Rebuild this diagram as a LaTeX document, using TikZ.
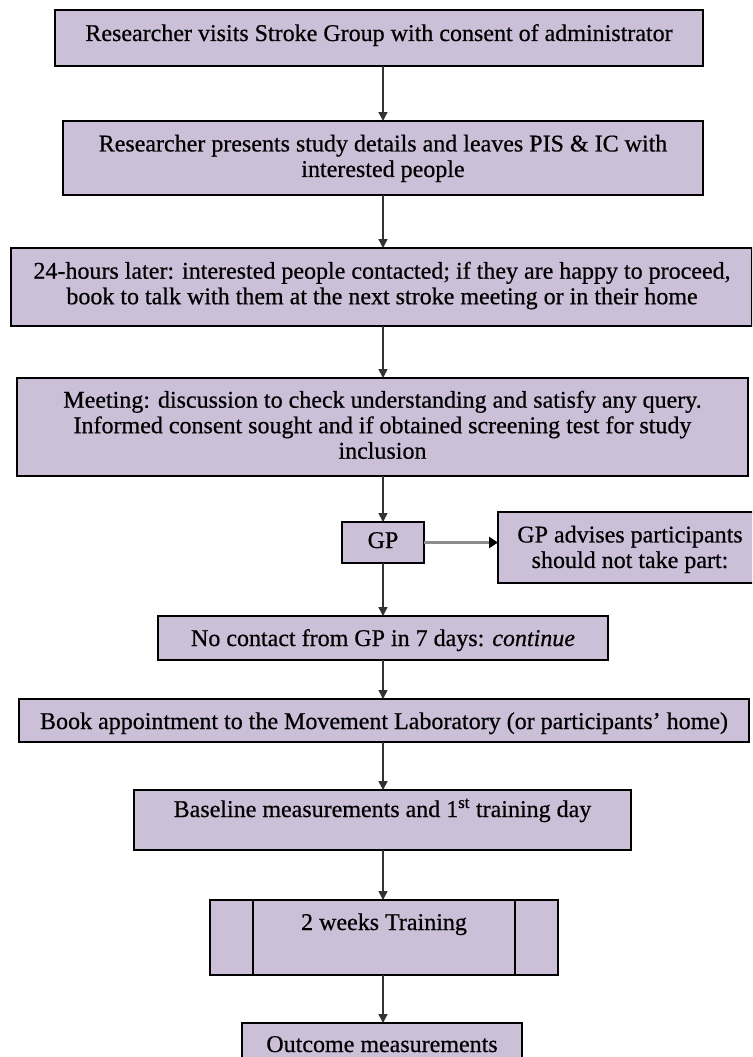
\documentclass[tikz,border=0pt]{standalone}
\usepackage{fontspec}
\setmainfont{Liberation Serif}[RawFeature={embolden=0.6}]
\usetikzlibrary{arrows.meta}
\definecolor{boxfill}{RGB}{204,192,217}
\begin{document}
\begin{tikzpicture}[x=1pt,y=-1pt,
  box/.style={draw=black, line width=2pt, fill=boxfill, inner sep=0pt, outer sep=0pt},
  txt/.style={font=\fontsize{24}{25.5}\selectfont, inner sep=0pt, align=center},
  conn/.style={line width=1.6pt, draw=black!80, -{Triangle[length=9pt,width=9pt]}},
  sideconn/.style={line width=3.5pt, draw=black!45, -{Triangle[length=9pt,width=11pt,fill=black,color=black]}}
  ]
\useasboundingbox (0,0) rectangle (752,1057);
\fill[white] (0,0) rectangle (752,1057);
\clip (0,0) rectangle (752,1057);

% boxes
\node[box, minimum width=648pt, minimum height=56pt] (b1) at (379,38) {};
\node[box, minimum width=640pt, minimum height=74pt] (b2) at (383,158) {};
\node[box, minimum width=741pt, minimum height=78pt] (b3) at (381.5,287) {};
\node[box, minimum width=731pt, minimum height=98pt] (b4) at (382.5,427) {};
\node[box, minimum width=82pt, minimum height=41pt] (gp) at (383,542.5) {};
\node[box, minimum width=264pt, minimum height=71pt] (adv) at (630,547.5) {};
\node[box, minimum width=450pt, minimum height=44pt] (nc) at (383,638) {};
\node[box, minimum width=730pt, minimum height=43pt] (bk) at (384,720.5) {};
\node[box, minimum width=497pt, minimum height=60pt] (bl) at (382.5,820) {};
\node[box, minimum width=348pt, minimum height=75pt] (tr) at (384,937.5) {};
\node[box, minimum width=280pt, minimum height=57pt] (oc) at (382,1051.5) {};
\draw[line width=2pt] ([xshift=43pt]tr.north west) -- ([xshift=43pt]tr.south west);
\draw[line width=2pt] ([xshift=-43pt]tr.north east) -- ([xshift=-43pt]tr.south east);

% texts
\node[txt, anchor=base] (t1) at (379,41) {Researcher visits Stroke Group with consent of administrator};
\node[txt, anchor=north] (t2) at (383,134.6) {Researcher presents study details and leaves PIS \& IC with\\interested people};
\node[txt, anchor=north] (t3) at (382,261.6) {24-hours later: interested people contacted; if they are happy to proceed,\\book to talk with them at the next stroke meeting or in their home};
\node[txt, anchor=north] (t4) at (382.5,390.6) {Meeting: discussion to check understanding and satisfy any query.\\Informed consent sought and if obtained screening test for study\\inclusion};
\node[txt, anchor=base] (tgp) at (383,548) {GP};
\node[txt, anchor=north] (tadv) at (630,525.6) {GP advises participants\\should not take part:};
\node[txt, anchor=base] (tnc) at (383,646) {No contact from GP in 7 days: \textit{continue}};
\node[txt, anchor=base] (tbk) at (384,729) {Book appointment to the Movement Laboratory (or participants’ home)};
\node[txt, anchor=base] (tbl) at (382.5,817) {Baseline measurements and 1\textsuperscript{st} training day};
\node[txt, anchor=base] (ttr) at (384,930) {2 weeks Training};
\node[txt, anchor=base] (toc) at (382,1052) {Outcome measurements};

% connectors
\draw[conn] (b1.south -| gp.center) -- (b2.north -| gp.center);
\draw[conn] (b2.south -| gp.center) -- (b3.north -| gp.center);
\draw[conn] (b3.south -| gp.center) -- (b4.north -| gp.center);
\draw[conn] (b4.south -| gp.center) -- (gp.north);
\draw[conn] (gp.south) -- (nc.north -| gp.center);
\draw[conn] (nc.south -| gp.center) -- (bk.north -| gp.center);
\draw[conn] (bk.south -| gp.center) -- (bl.north -| gp.center);
\draw[conn] (bl.south -| gp.center) -- (tr.north -| gp.center);
\draw[conn] (tr.south -| gp.center) -- (oc.north -| gp.center);
\draw[sideconn] (gp.east) -- (adv.west |- gp.east);
\end{tikzpicture}
\end{document}
